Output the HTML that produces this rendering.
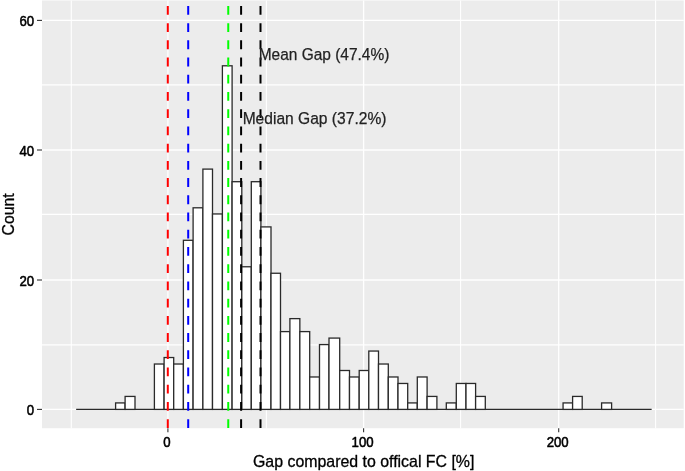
<!DOCTYPE html><html><head><meta charset="utf-8"><title>Histogram</title><style>html,body{margin:0;padding:0;background:#fff;}svg{display:block;}text{font-family:"Liberation Sans",Arial,sans-serif;stroke-linejoin:round;}</style></head><body>
<svg width="685" height="471" viewBox="0 0 685 471">
<rect x="0" y="0" width="685" height="471" fill="#fff"/>
<rect x="42" y="0.5" width="641.7" height="427.7" fill="#ECECEC"/>
<g stroke="#fff" stroke-width="1.1">
<line x1="42" y1="344.85" x2="683.7" y2="344.85"/>
<line x1="42" y1="214.4" x2="683.7" y2="214.4"/>
<line x1="42" y1="84.85" x2="683.7" y2="84.85"/>
<line x1="71.3" y1="0.5" x2="71.3" y2="428.2"/>
<line x1="266.4" y1="0.5" x2="266.4" y2="428.2"/>
<line x1="460.6" y1="0.5" x2="460.6" y2="428.2"/>
<line x1="655.6" y1="0.5" x2="655.6" y2="428.2"/>
</g>
<g stroke="#fff" stroke-width="1.3">
<line x1="42" y1="409.4" x2="683.7" y2="409.4"/>
<line x1="42" y1="280" x2="683.7" y2="280"/>
<line x1="42" y1="150" x2="683.7" y2="150"/>
<line x1="42" y1="20.4" x2="683.7" y2="20.4"/>
<line x1="167.9" y1="0.5" x2="167.9" y2="428.2"/>
<line x1="363.6" y1="0.5" x2="363.6" y2="428.2"/>
<line x1="558.7" y1="0.5" x2="558.7" y2="428.2"/>
</g>
<g fill="#fff" stroke="#2a2a2a" stroke-width="1.3" stroke-linejoin="miter">
<line x1="76.8" y1="409.4" x2="651" y2="409.4" stroke-linecap="square"/>
<rect x="115.6" y="402.92" width="9.5" height="6.48"/>
<rect x="125.1" y="396.43" width="9.9" height="12.97"/>
<rect x="154.4" y="364.02" width="9.7" height="45.38"/>
<rect x="164.1" y="357.53" width="9.6" height="51.87"/>
<rect x="173.7" y="364.02" width="9.7" height="45.38"/>
<rect x="183.4" y="240.3" width="9.7" height="169.1"/>
<rect x="193.1" y="207.8" width="9.8" height="201.6"/>
<rect x="202.9" y="169.1" width="9.6" height="240.3"/>
<rect x="212.5" y="213.95" width="9.9" height="195.45"/>
<rect x="222.4" y="65.79" width="9.7" height="343.61"/>
<rect x="232.1" y="181.7" width="9.7" height="227.7"/>
<rect x="241.8" y="266.77" width="9.5" height="142.63"/>
<rect x="251.3" y="181.7" width="9.6" height="227.7"/>
<rect x="260.9" y="226.9" width="10.1" height="182.5"/>
<rect x="271" y="273.25" width="9.5" height="136.15"/>
<rect x="280.5" y="331.6" width="9.4" height="77.8"/>
<rect x="289.9" y="318.63" width="9.95" height="90.77"/>
<rect x="299.85" y="331.6" width="9.85" height="77.8"/>
<rect x="309.7" y="376.98" width="9.8" height="32.42"/>
<rect x="319.5" y="344.57" width="9.5" height="64.83"/>
<rect x="329" y="338.08" width="10.7" height="71.32"/>
<rect x="339.7" y="370.5" width="9.8" height="38.9"/>
<rect x="349.5" y="376.98" width="9.7" height="32.42"/>
<rect x="359.2" y="370.5" width="9.6" height="38.9"/>
<rect x="368.8" y="351.05" width="9.7" height="58.35"/>
<rect x="378.5" y="364.02" width="9.8" height="45.38"/>
<rect x="388.3" y="376.98" width="9.7" height="32.42"/>
<rect x="398" y="383.47" width="9.7" height="25.93"/>
<rect x="407.7" y="402.92" width="9.6" height="6.48"/>
<rect x="417.3" y="376.98" width="9.8" height="32.42"/>
<rect x="427.1" y="396.43" width="9.8" height="12.97"/>
<rect x="446.3" y="402.92" width="10" height="6.48"/>
<rect x="456.3" y="383.47" width="9.7" height="25.93"/>
<rect x="466" y="383.47" width="9.6" height="25.93"/>
<rect x="475.6" y="396.43" width="9.7" height="12.97"/>
<rect x="563.07" y="402.92" width="9.53" height="6.48"/>
<rect x="572.6" y="396.43" width="9.6" height="12.97"/>
<rect x="601.6" y="402.92" width="10" height="6.48"/>
</g>
<g stroke-width="2" stroke-dasharray="8.8 8.42">
<line x1="167.8" y1="428" x2="167.8" y2="0.5" stroke="#FF0000"/>
<line x1="188.2" y1="428" x2="188.2" y2="0.5" stroke="#0000FF"/>
<line x1="228.25" y1="428" x2="228.25" y2="0.5" stroke="#00FF00"/>
<line x1="241.1" y1="428" x2="241.1" y2="0.5" stroke="#000000"/>
<line x1="260.5" y1="428" x2="260.5" y2="0.5" stroke="#000000"/>
</g>
<g fill="#222" stroke="#222" stroke-width="0.25" font-size="16.9">
<text x="258.7" y="60.2" textLength="130.6" lengthAdjust="spacingAndGlyphs">Mean Gap (47.4%)</text>
<text x="242.65" y="124.0" textLength="143.8" lengthAdjust="spacingAndGlyphs">Median Gap (37.2%)</text>
</g>
<g stroke="#333" stroke-width="1.1">
<line x1="37" y1="409.4" x2="42" y2="409.4"/>
<line x1="37" y1="280" x2="42" y2="280"/>
<line x1="37" y1="150" x2="42" y2="150"/>
<line x1="37" y1="20.4" x2="42" y2="20.4"/>
<line x1="167.9" y1="428.2" x2="167.9" y2="432.3"/>
<line x1="363.6" y1="428.2" x2="363.6" y2="432.3"/>
<line x1="558.7" y1="428.2" x2="558.7" y2="432.3"/>
</g>
<g fill="#000" stroke="#000" stroke-width="0.55" font-size="14.5" text-anchor="end">
<text x="34.2" y="415.4" textLength="7.35" lengthAdjust="spacingAndGlyphs">0</text>
<text x="34.2" y="286" textLength="14.7" lengthAdjust="spacingAndGlyphs">20</text>
<text x="34.2" y="156" textLength="14.7" lengthAdjust="spacingAndGlyphs">40</text>
<text x="34.2" y="26.4" textLength="14.7" lengthAdjust="spacingAndGlyphs">60</text>
</g>
<g fill="#000" stroke="#000" stroke-width="0.55" font-size="14.5" text-anchor="middle">
<text x="166.9" y="447.4" textLength="7.35" lengthAdjust="spacingAndGlyphs">0</text>
<text x="362.6" y="447.4" textLength="22.05" lengthAdjust="spacingAndGlyphs">100</text>
<text x="557.7" y="447.4" textLength="22.05" lengthAdjust="spacingAndGlyphs">200</text>
</g>
<text x="253" y="466.5" font-size="15.9" fill="#000" stroke="#000" stroke-width="0.3">Gap compared to offical FC [%]</text>
<text transform="translate(14.4,235.4) rotate(-90)" font-size="15.8" fill="#000" stroke="#000" stroke-width="0.3">Count</text>
</svg></body></html>
